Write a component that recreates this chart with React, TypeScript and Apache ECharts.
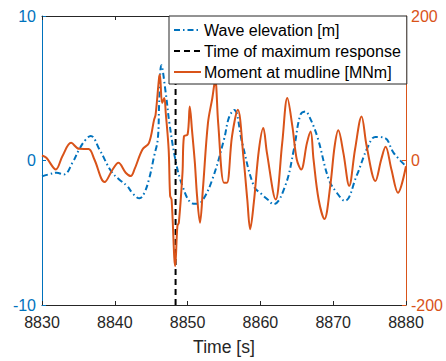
import React, { useEffect, useRef } from "react";
import * as echarts from "echarts";

const waveTime = [8830, 8831, 8832, 8833, 8834.2, 8835.1, 8836.0, 8836.7, 8837.9, 8839.5, 8840.6, 8841.7, 8842.5, 8843.4, 8844.0, 8844.7, 8845.4, 8845.9, 8846.1, 8846.4, 8847.0, 8847.5, 8848.4, 8849.3, 8850.4, 8851.2, 8852.0, 8853.4, 8855.0, 8855.7, 8856.4, 8857.5, 8859.1, 8860.2, 8861.0, 8861.8, 8863.4, 8864.6, 8865.5, 8866.2, 8866.6, 8867.8, 8869.4, 8870.5, 8871.6, 8873.2, 8874.8, 8875.8, 8877.1, 8878.3, 8880];
const waveValues = [-1.1, -0.95, -0.85, -0.97, -0.14, 0.76, 1.45, 1.7, 0.76, -0.74, -1.31, -1.77, -2.3, -2.62, -2.3, -1.3, 0.3, 1.45, 4.0, 6.6, 4.67, 2.6, -0.14, -1.77, -2.9, -3.0, -2.8, -1.31, 1.45, 3.0, 3.5, 1.22, -1.77, -2.34, -2.7, -3.03, -1.77, 0.76, 3.17, 3.4, 3.17, 1.68, -1.31, -2.23, -2.8, -1.08, 0.99, 1.63, 1.56, 0.53, -0.39];

const momentTime = [8830, 8830.6, 8831.9, 8832.8, 8834.0, 8835.1, 8836.4, 8837.2, 8838.6, 8839.7, 8840.5, 8841.5, 8842.2, 8842.7, 8843.8, 8844.7, 8845.4, 8845.6, 8846.1, 8846.2, 8846.5, 8846.8, 8847.0, 8847.4, 8847.6, 8847.8, 8848.3, 8848.6, 8848.8, 8849.3, 8849.5, 8850.0, 8850.3, 8850.6, 8851.0, 8851.3, 8851.7, 8852.1, 8852.8, 8853.4, 8853.8, 8854.2, 8855.0, 8855.4, 8856.1, 8856.9, 8857.7, 8858.2, 8858.6, 8859.1, 8859.8, 8860.4, 8860.9, 8862.1, 8863.0, 8863.7, 8864.4, 8865.0, 8865.6, 8866.4, 8866.9, 8867.3, 8868.0, 8868.8, 8869.6, 8870.2, 8870.7, 8871.4, 8872.2, 8873.0, 8873.9, 8874.6, 8875.8, 8876.6, 8877.2, 8878.0, 8878.9, 8880];
const momentValues = [6.9, 3.7, -12.4, 5.9, 24.4, 16.1, 16, 1.4, -29.9, -12.4, -3.2, -17, -21.6, -12.4, 15.2, 24.4, 56.6, 63, 116, 118.6, 79.6, 86.5, 65.8, 15, -49, -54, -146, -90.6, -86, -17, 33.5, 35.9, 74.9, 42.8, -3.2, -49, -86, -40, 52, 86.5, 111.7, 52, -30.8, -30.8, 33.5, 70.3, 1.4, -54, -95, -58, 15, 45, 10.6, -54, 24.4, 86.5, 47, 1.4, -12.4, 24.4, 40, 1.4, -54, -81, -35, 19.7, 41.8, 10.6, -35, 15.2, 61, 19.7, -28.5, 1.4, 18.9, -12.4, -44.6, -7.9];

const maxResponseTime = 8848.35;
const xTicks = { min: 8830, max: 8880, interval: 10 };
const leftTicks = { min: -10, max: 10, interval: 10 };
const rightTicks = { min: -200, max: 200, interval: 200 };

const BLUE = "#0072BD";
const ORANGE = "#D95319";
const DARK = "#262626";
const FONT = "Liberation Sans";

export default function App() {
  const ref = useRef<HTMLDivElement>(null);
  useEffect(() => {
    if (!ref.current) return;
    const chart = echarts.init(ref.current, null, { renderer: "svg" });
    chart.setOption({
      animation: false,
      grid: { left: 42, right: 38, top: 16, bottom: 55 },
      legend: {
        orient: "vertical",
        left: 169,
        top: 16,
        data: ["Wave elevation [m]", "Time of maximum response", "Moment at mudline [MNm]"],
        backgroundColor: "#fff",
        borderColor: DARK,
        borderWidth: 1,
        borderRadius: 0,
        padding: [6, 6, 4, 4],
        itemWidth: 27,
        itemHeight: 14,
        itemGap: 5,
        itemStyle: { opacity: 0 },
        textStyle: { fontFamily: FONT, fontSize: 16, color: "#000", padding: [0, 0, 0, -2] },
        z: 10,
      },
      xAxis: [
        {
          type: "value",
          min: xTicks.min,
          max: xTicks.max,
          interval: xTicks.interval,
          name: "Time [s]",
          nameLocation: "middle",
          nameGap: 33,
          nameTextStyle: { fontFamily: FONT, fontSize: 17.6, color: DARK },
          axisLine: { onZero: false, lineStyle: { color: DARK, width: 1 } },
          axisTick: { inside: true, length: 4, lineStyle: { color: DARK } },
          axisLabel: {
            fontFamily: FONT,
            fontSize: 16,
            color: DARK,
            margin: 9,
            formatter: (v: number) => String(v),
          },
          splitLine: { show: false },
        },
        {
          type: "value",
          position: "top",
          min: xTicks.min,
          max: xTicks.max,
          interval: xTicks.interval,
          axisLine: { show: true, onZero: false, lineStyle: { color: DARK, width: 1 } },
          axisTick: { show: true, inside: true, length: 4, lineStyle: { color: DARK } },
          axisLabel: { show: false },
          splitLine: { show: false },
        },
      ],
      yAxis: [
        {
          type: "value",
          min: leftTicks.min,
          max: leftTicks.max,
          interval: leftTicks.interval,
          position: "left",
          axisLine: { show: true, onZero: false, lineStyle: { color: BLUE, width: 1 } },
          axisTick: { show: true, inside: true, length: 4, lineStyle: { color: BLUE } },
          axisLabel: { fontFamily: FONT, fontSize: 16, color: BLUE, margin: 6 },
          splitLine: { show: false },
        },
        {
          type: "value",
          min: rightTicks.min,
          max: rightTicks.max,
          interval: rightTicks.interval,
          position: "right",
          axisLine: { show: true, onZero: false, lineStyle: { color: ORANGE, width: 1 } },
          axisTick: { show: true, inside: true, length: 4, lineStyle: { color: ORANGE } },
          axisLabel: { fontFamily: FONT, fontSize: 16, color: ORANGE, margin: 5 },
          splitLine: { show: false },
        },
      ],
      series: [
        {
          name: "Wave elevation [m]",
          type: "line",
          xAxisIndex: 0,
          yAxisIndex: 0,
          data: waveTime.map((t, i) => [t, waveValues[i]]),
          showSymbol: false,
          symbol: "none",
          smooth: 0.4,
          color: BLUE,
          lineStyle: { color: BLUE, width: 2, type: [6, 3, 1.5, 3] },
          z: 2,
        },
        {
          name: "Time of maximum response",
          type: "line",
          xAxisIndex: 0,
          yAxisIndex: 0,
          data: [
            [maxResponseTime, leftTicks.min],
            [maxResponseTime, leftTicks.max],
          ],
          showSymbol: false,
          symbol: "none",
          color: "#000",
          lineStyle: { color: "#000", width: 2, type: [6, 4] },
          z: 3,
        },
        {
          name: "Moment at mudline [MNm]",
          type: "line",
          xAxisIndex: 0,
          yAxisIndex: 1,
          data: momentTime.map((t, i) => [t, momentValues[i]]),
          showSymbol: false,
          symbol: "none",
          smooth: 0.35,
          color: ORANGE,
          lineStyle: { color: ORANGE, width: 2 },
          z: 4,
        },
      ],
    });
    return () => chart.dispose();
  }, []);
  return (
    <div
      ref={ref}
      style={{ position: "fixed", left: 0, top: 0, width: 446, height: 361, background: "#fff" }}
    />
  );
}
